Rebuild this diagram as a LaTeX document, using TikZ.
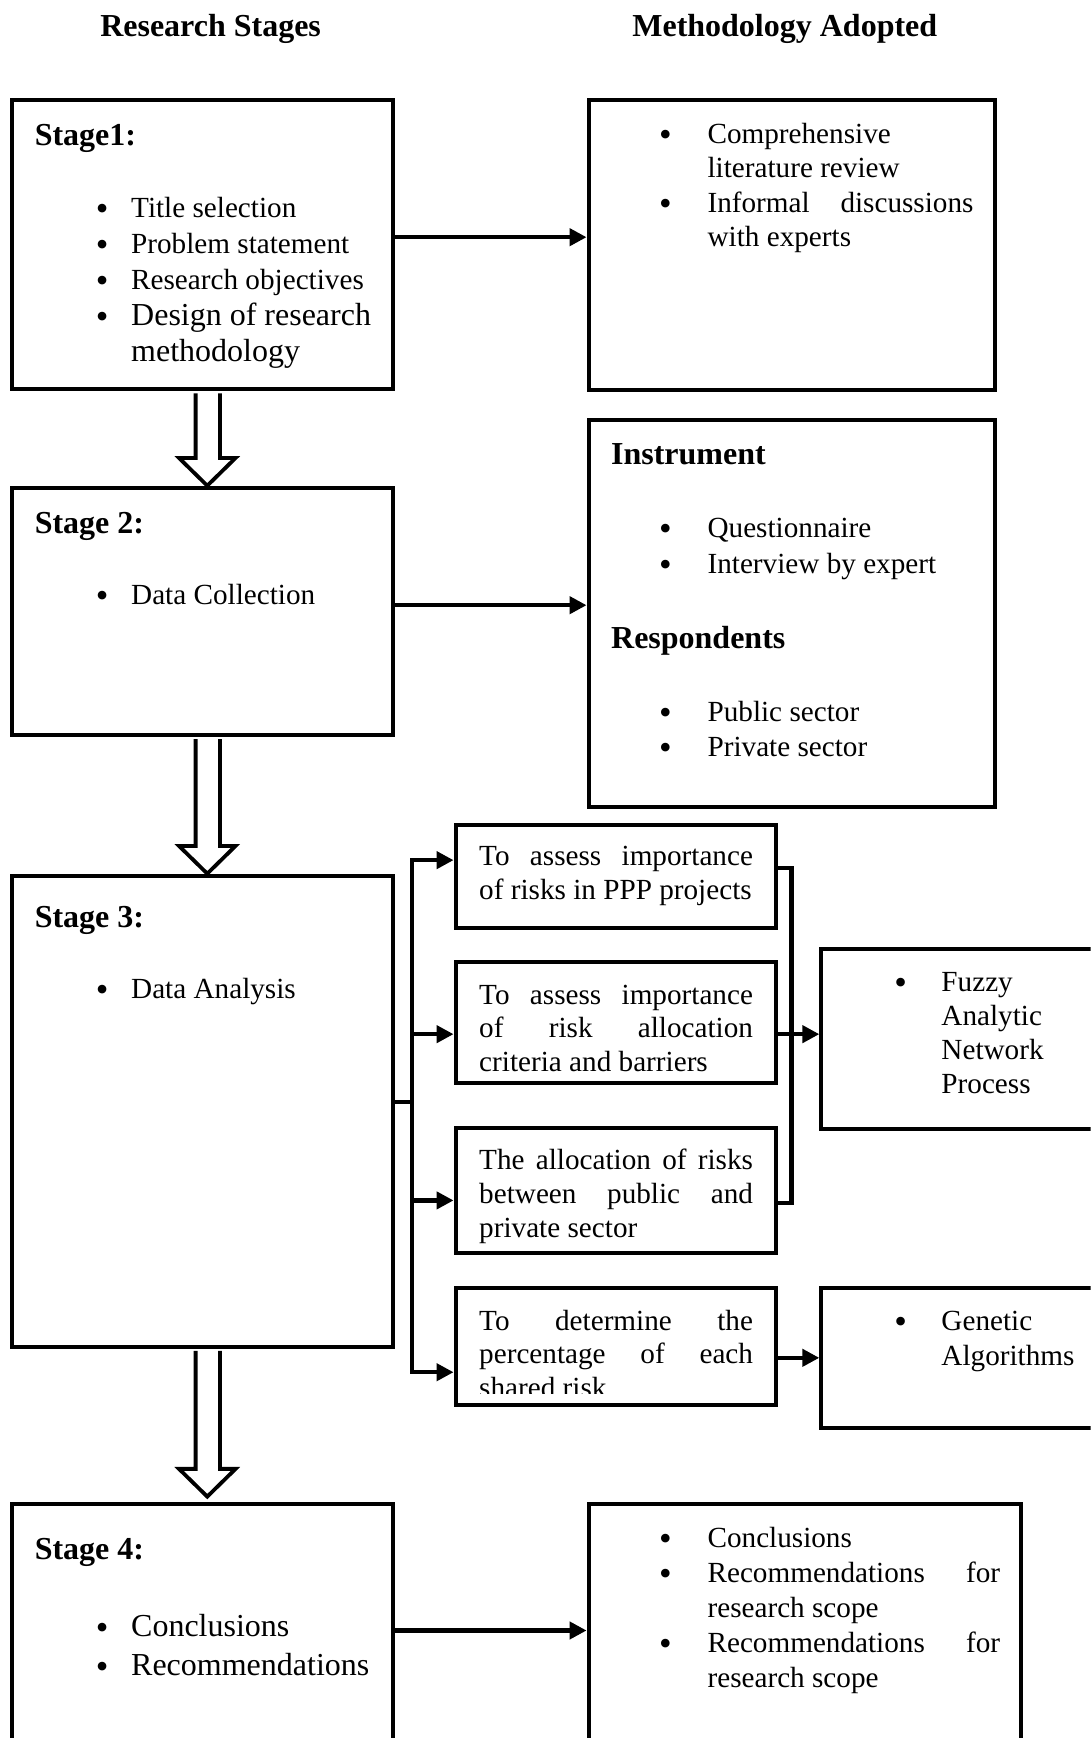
\documentclass[tikz,border=0pt]{standalone}
\usepackage{fontspec}
\setmainfont{Liberation Serif}
\usetikzlibrary{arrows.meta,calc,fit}

\newcommand{\bul}[1][11.3pt]{\llap{\raisebox{-1.5pt}{\fontsize{18}{18}\selectfont\textbullet}\hspace{#1}}}
\newcommand{\jl}[2]{\makebox[#1][s]{#2}}

\begin{document}
\begin{tikzpicture}
  [x=0.5543pt,y=-0.5543pt,line join=miter,every node/.style={inner sep=0pt},
   txt/.style={anchor=base west,font=\fontsize{14.6}{#1}\selectfont},txt/.default=17.2]
  \tikzstyle{box} = [draw,line width=2pt]
  \tikzstyle{hd} = [anchor=base west,font=\fontsize{16}{19}\selectfont\bfseries]
  \tikzstyle{link} = [line width=2.1pt,-{Triangle[length=8.5pt,width=8.5pt]}]
  \tikzstyle{wire} = [line width=2.1pt]
  \tikzstyle{hollow} = [line width=1.9pt,fill=white]

  \clip (0,0) rectangle (984,1568);

  \node[hd,anchor=base] (hl) at (190,33) {Research Stages};
  \node[hd,anchor=base] (hr) at (708,33) {Methodology Adopted};

  \node[box,fit={(11,90) (355,351)}] (s1) {};
  \node[box,fit={(11,440) (355,663)}] (s2) {};
  \node[box,fit={(11,790) (355,1215)}] (s3) {};
  \node[box,fit={(11,1357) (355,1600)}] (s4) {};
  \node[box,fit={(531,90) (898,352)}] (m1) {};
  \node[box,fit={(531,379) (898,728)}] (m2) {};
  \node[box,fit={(531,1357) (921,1600)}] (m4) {};
  \node[box,fit={(411,744) (700,837)}] (sa) {};
  \node[box,fit={(411,868) (700,977)}] (sb) {};
  \node[box,fit={(411,1018) (700,1130)}] (sc) {};
  \node[box,fit={(411,1162) (700,1268)}] (sd) {};
  \node[box,fit={(741,856) (1000,1019)}] (fz) {};
  \node[box,fit={(741,1162) (1000,1288)}] (ga) {};

  % stage texts
  \node[hd] (s1t) at (31,131) {Stage1:};
  \node[txt=18] (s1l) at (118,196) {\begin{tabular}[t]{@{}l@{}}
    \bul Title selection\\ \bul Problem statement\\ \bul Research objectives\\
    {\fontsize{16}{18}\selectfont\bul Design of research}\\
    {\fontsize{16}{18}\selectfont methodology}\end{tabular}};
  \node[hd] (s2t) at (31,481) {Stage 2:};
  \node[txt] (s2l) at (118,545.5) {\bul Data Collection};
  \node[hd] (s3t) at (31,837) {Stage 3:};
  \node[txt] (s3l) at (118,900.5) {\bul Data Analysis};
  \node[hd] (s4t) at (31,1407) {Stage 4:};
  \node[txt,font=\fontsize{16}{19.7}\selectfont] (s4l) at (118,1476.5) {\begin{tabular}[t]{@{}l@{}}
    \bul Conclusions\\ \bul Recommendations\end{tabular}};

  % methodology texts
  \node[txt] (m1l) at (638,129.5) {\begin{tabular}[t]{@{}l@{}}
    \bul[17.9pt]Comprehensive\\ literature review\\
    \bul[17.9pt]\jl{133pt}{Informal discussions}\\ with experts\end{tabular}};
  \node[hd] (m2a) at (551,419) {Instrument};
  \node[txt=18.3] (m2b) at (638,484.5) {\begin{tabular}[t]{@{}l@{}}
    \bul[17.9pt]Questionnaire\\ \bul[17.9pt]Interview by expert\end{tabular}};
  \node[hd] (m2c) at (551,585) {Respondents};
  \node[txt=17.7] (m2d) at (638,650.5) {\begin{tabular}[t]{@{}l@{}}
    \bul[17.9pt]Public sector\\ \bul[17.9pt]Private sector\end{tabular}};
  \node[txt=17.5] (m4l) at (638,1396.5) {\begin{tabular}[t]{@{}l@{}}
    \bul[17.9pt]Conclusions\\ \bul[17.9pt]\jl{146.3pt}{Recommendations for}\\ research scope\\
    \bul[17.9pt]\jl{146.3pt}{Recommendations for}\\ research scope\end{tabular}};

  % analysis texts
  \node[txt] (sal) at (432,780.5) {\begin{tabular}[t]{@{}l@{}}
    \jl{136.9pt}{To assess importance}\\ of risks in PPP projects\end{tabular}};
  \node[txt=16.6] (sbl) at (432,906.5) {\begin{tabular}[t]{@{}l@{}}
    \jl{136.9pt}{To assess importance}\\ \jl{136.9pt}{of risk allocation}\\ criteria and barriers\end{tabular}};
  \node[txt=16.9] (scl) at (432,1055.5) {\begin{tabular}[t]{@{}l@{}}
    \jl{136.9pt}{The allocation of risks}\\ \jl{136.9pt}{between public and}\\ private sector\end{tabular}};
  \begin{scope}
    \clip (411,1162) rectangle (700,1257);
    \node[txt=16.6] (sdl) at (432,1200.5) {\begin{tabular}[t]{@{}l@{}}
      \jl{136.9pt}{To determine the}\\ \jl{136.9pt}{percentage of each}\\ shared risk\end{tabular}};
  \end{scope}
  \node[txt=17] (fzl) at (849,894.5) {\begin{tabular}[t]{@{}l@{}}
    \bul[17.3pt]Fuzzy\\ Analytic\\ Network\\ Process\end{tabular}};
  \node[txt] (gal) at (849,1200.5) {\begin{tabular}[t]{@{}l@{}}
    \bul[17.3pt]Genetic\\ Algorithms\end{tabular}};

  % stage to method arrows
  \coordinate (a1) at (355,214);
  \coordinate (a2) at (355,546);
  \coordinate (a4) at (355,1471);
  \draw[link] (a1) -- (a1 -| m1.west);
  \draw[link] (a2) -- (a2 -| m2.west);
  \draw[link] (a4) -- (a4 -| m4.west);

  % hollow arrows between stages
  \foreach \a/\b/\t in {s1/s2/0,s2/s3/0,s3/s4/-5}
    \draw[hollow] ($(\a.south)+(-6.5,2)$) -- ($(\b.north)+(-6.5,\t-25)$)
      -- ($(\b.north)+(-21.5,\t-25)$) -- ($(\b.north)+(4,\t)$)
      -- ($(\b.north)+(29.5,\t-25)$) -- ($(\b.north)+(15.5,\t-25)$)
      -- ($(\a.south)+(15.5,2)$);

  % branching of stage 3
  \coordinate (bus) at (372,994);
  \coordinate (ba) at (372,776);
  \coordinate (bb) at (372,933);
  \coordinate (bc) at (372,1083);
  \coordinate (bd) at (372,1238);
  \draw[wire] (s3.east |- bus) -- (bus);
  \draw[link] (bus) -- (ba) -- (ba -| sa.west);
  \draw[link] (bus) -- (bd) -- (bd -| sd.west);
  \foreach \c/\n in {bb/sb,bc/sc}
    \draw[link] (\c) -- (\c -| \n.west);

  \coordinate (ra) at (714,783);
  \coordinate (rb) at (714,933);
  \coordinate (rc) at (714,1085);
  \draw[wire] (ra -| sa.east) -- (ra) -- (rc) -- (rc -| sc.east);
  \draw[link] (rb -| sb.east) -- (rb -| fz.west);
  \draw[link] (sd.east |- ga.west) -- (ga.west);
\end{tikzpicture}
\end{document}
